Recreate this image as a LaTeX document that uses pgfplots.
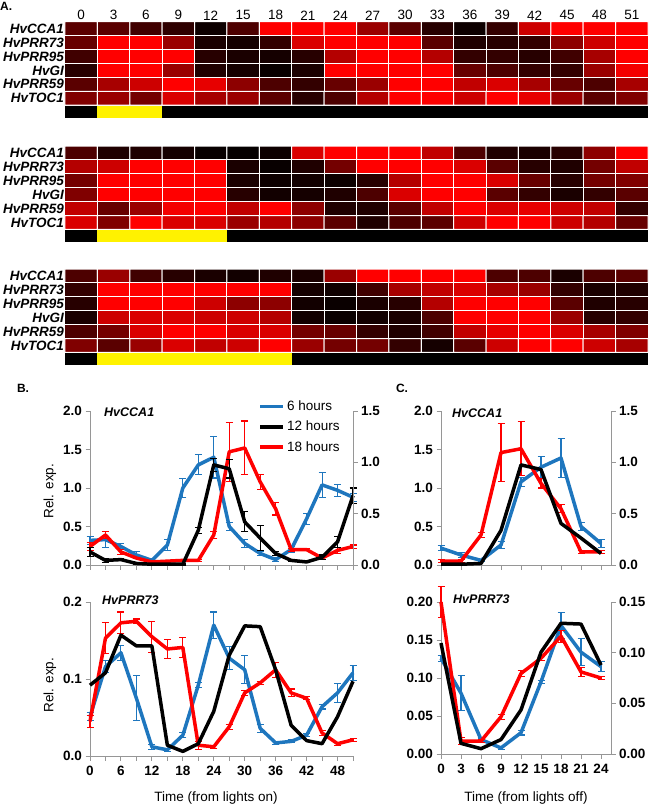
\documentclass[border=0pt]{standalone}
\usepackage{pgfplots}
\pgfplotsset{compat=1.18}
\usepackage{fontspec}
\setmainfont{Liberation Sans}
\definecolor{cblue}{RGB}{30,118,190}
\definecolor{cred}{RGB}{255,0,0}
\definecolor{axgray}{RGB}{150,150,150}
\newcommand{\tickfont}{\fontsize{13.5}{14}\selectfont\bfseries}
\newcommand{\genefont}{\fontsize{13.5}{14}\selectfont\bfseries\itshape}
\newcommand{\titlefont}{\fontsize{12.5}{13}\selectfont\bfseries\itshape}
\newcommand{\labfont}{\fontsize{13.5}{14}\selectfont}
\pgfplotsset{
 heat/.style={scale only axis, anchor=north west, width=583pt, height=96pt,
   xmin=-0.5, xmax=17.5, ymin=-0.5, ymax=6.4, y dir=reverse,
   axis line style={draw=none}, tick style={draw=none}, major tick length=0pt,
   ytick={0,...,5}, yticklabels={HvCCA1,HvPRR73,HvPRR95,HvGI,HvPRR59,HvTOC1},
   yticklabel style={font=\genefont, inner sep=1pt},
   xtick=\empty,
   colormap={br}{rgb255=(0,0,0) rgb255=(255,0,0)},
   point meta min=0, point meta max=1, clip=false},
 hm/.style={matrix plot, shader=faceted, faceted color=white, line width=1pt,
   mesh/cols=18, point meta=explicit},
 lp/.style={scale only axis, anchor=south west, axis x line*=bottom, axis y line*=left,
   axis line style={draw=axgray, line width=1pt, -}, tick style={draw=axgray, line width=1pt},
   major tick length=4.5pt, minor tick length=4.5pt, tick align=outside,
   ticklabel style={font=\tickfont}, /pgf/number format/assume math mode=true,
   clip=false, ymin=0},
 rax/.style={scale only axis, anchor=south west, axis y line*=right, axis x line=none,
   axis line style={draw=axgray, line width=1pt, -}, tick style={draw=axgray, line width=1pt},
   major tick length=4.5pt, tick align=outside,
   ticklabel style={font=\tickfont}, /pgf/number format/assume math mode=true,
   xmin=0, xmax=1, ymin=0},
 sB/.style={draw=cblue, line width=3.5pt, line join=round, mark=none},
 sK/.style={draw=black, line width=3.5pt, line join=round, mark=none},
 sR/.style={draw=cred, line width=3.5pt, line join=round, mark=none},
 eb/.style={error bars/.cd, y dir=both, y explicit,
   error bar style={line width=1.1pt, #1},
   error mark options={rotate=90, line width=1.1pt, mark size=3.5pt, #1}},
}
\begin{document}
\begin{tikzpicture}
\useasboundingbox (0pt,0pt) rectangle (649pt,-806pt);
\node[anchor=west, font=\fontsize{12}{12}\selectfont\bfseries, inner sep=0pt] at (0pt,-6pt) {A.};
% ---------------- heatmap 1 (6 h light)
\begin{axis}[heat, at={(65pt,-21.7pt)}, xtick={0,...,17}, xticklabel pos=upper,
  xticklabels={0,3,6,9,12,15,18,21,24,27,30,33,36,39,42,45,48,51},
  xticklabel style={font=\labfont, inner sep=1.5pt}]
\addplot[hm] coordinates {
(0,0)[0.35] (1,0)[0.35] (2,0)[0.25] (3,0)[0.18] (4,0)[0.05] (5,0)[0.3] (6,0)[1] (7,0)[1] (8,0)[1] (9,0)[0.6] (10,0)[0.35] (11,0)[0.15] (12,0)[0.05] (13,0)[0.2] (14,0)[0.8] (15,0)[1] (16,0)[1] (17,0)[1]
(0,1)[0.4] (1,1)[1] (2,1)[1] (3,1)[0.6] (4,1)[0.1] (5,1)[0.08] (6,1)[0.2] (7,1)[0.85] (8,1)[1] (9,1)[1] (10,1)[1] (11,1)[0.35] (12,1)[0.12] (13,1)[0.15] (14,1)[0.2] (15,1)[0.55] (16,1)[0.8] (17,1)[1]
(0,2)[0.25] (1,2)[1] (2,2)[1] (3,2)[1] (4,2)[0.15] (5,2)[0.1] (6,2)[0.08] (7,2)[0.15] (8,2)[0.7] (9,2)[1] (10,2)[1] (11,2)[0.7] (12,2)[0.2] (13,2)[0.2] (14,2)[0.15] (15,2)[0.25] (16,2)[0.65] (17,2)[1]
(0,3)[0.15] (1,3)[1] (2,3)[1] (3,3)[0.6] (4,3)[0.12] (5,3)[0.08] (6,3)[0.03] (7,3)[0.1] (8,3)[1] (9,3)[1] (10,3)[1] (11,3)[1] (12,3)[0.4] (13,3)[0.3] (14,3)[0.2] (15,3)[0.2] (16,3)[0.6] (17,3)[0.95]
(0,4)[0.35] (1,4)[0.65] (2,4)[0.8] (3,4)[1] (4,4)[0.9] (5,4)[0.55] (6,4)[0.3] (7,4)[0.2] (8,4)[0.4] (9,4)[0.6] (10,4)[1] (11,4)[1] (12,4)[0.75] (13,4)[0.85] (14,4)[0.65] (15,4)[0.4] (16,4)[0.3] (17,4)[0.65]
(0,5)[0.5] (1,5)[0.6] (2,5)[0.45] (3,5)[0.85] (4,5)[0.65] (5,5)[0.6] (6,5)[0.35] (7,5)[0.15] (8,5)[0.3] (9,5)[0.7] (10,5)[1] (11,5)[1] (12,5)[0.8] (13,5)[1] (14,5)[0.9] (15,5)[0.6] (16,5)[0.35] (17,5)[0.5]
};
\addplot[fill=black, draw=none] coordinates {(-0.5,5.57) (17.5,5.57) (17.5,6.4) (-0.5,6.4)} -- cycle;
\addplot[fill=yellow, draw=none] coordinates {(0.5,5.57) (2.5,5.57) (2.5,6.4) (0.5,6.4)} -- cycle;
\end{axis}
% ---------------- heatmap 2 (12 h light)
\begin{axis}[heat, at={(65pt,-146pt)}]
\addplot[hm] coordinates {
(0,0)[0.3] (1,0)[0.12] (2,0)[0.12] (3,0)[0.08] (4,0)[0.03] (5,0)[0.02] (6,0)[0.05] (7,0)[0.85] (8,0)[1] (9,0)[1] (10,0)[1] (11,0)[0.75] (12,0)[0.3] (13,0)[0.12] (14,0)[0.1] (15,0)[0.15] (16,0)[0.55] (17,0)[1]
(0,1)[0.7] (1,1)[0.8] (2,1)[1] (3,1)[1] (4,1)[1] (5,1)[0.1] (6,1)[0.03] (7,1)[0.12] (8,1)[0.45] (9,1)[1] (10,1)[1] (11,1)[1] (12,1)[0.85] (13,1)[0.35] (14,1)[0.15] (15,1)[0.12] (16,1)[0.45] (17,1)[0.75]
(0,2)[0.45] (1,2)[1] (2,2)[1] (3,2)[1] (4,2)[1] (5,2)[0.1] (6,2)[0.05] (7,2)[0.07] (8,2)[0.05] (9,2)[0.15] (10,2)[0.7] (11,2)[1] (12,2)[1] (13,2)[0.85] (14,2)[0.4] (15,2)[0.15] (16,2)[0.45] (17,2)[0.5]
(0,3)[0.5] (1,3)[1] (2,3)[1] (3,3)[1] (4,3)[1] (5,3)[0.15] (6,3)[0.07] (7,3)[0.08] (8,3)[0.12] (9,3)[0.3] (10,3)[0.85] (11,3)[1] (12,3)[1] (13,3)[0.35] (14,3)[0.2] (15,3)[0.1] (16,3)[0.2] (17,3)[0.35]
(0,4)[0.75] (1,4)[0.4] (2,4)[0.6] (3,4)[0.95] (4,4)[1] (5,4)[0.75] (6,4)[1] (7,4)[0.55] (8,4)[0.12] (9,4)[0.12] (10,4)[0.35] (11,4)[0.75] (12,4)[1] (13,4)[0.85] (14,4)[0.9] (15,4)[0.8] (16,4)[0.75] (17,4)[0.2]
(0,5)[0.85] (1,5)[0.5] (2,5)[1] (3,5)[0.85] (4,5)[0.85] (5,5)[0.6] (6,5)[0.7] (7,5)[0.55] (8,5)[0.35] (9,5)[0.12] (10,5)[0.3] (11,5)[0.35] (12,5)[0.8] (13,5)[1] (14,5)[1] (15,5)[0.8] (16,5)[0.7] (17,5)[0.4]
};
\addplot[fill=black, draw=none] coordinates {(-0.5,5.57) (17.5,5.57) (17.5,6.4) (-0.5,6.4)} -- cycle;
\addplot[fill=yellow, draw=none] coordinates {(0.5,5.57) (4.5,5.57) (4.5,6.4) (0.5,6.4)} -- cycle;
\end{axis}
% ---------------- heatmap 3 (18 h light)
\begin{axis}[heat, at={(65pt,-269pt)}]
\addplot[hm] coordinates {
(0,0)[0.3] (1,0)[0.6] (2,0)[0.25] (3,0)[0.15] (4,0)[0.1] (5,0)[0.07] (6,0)[0.12] (7,0)[0.1] (8,0)[0.6] (9,0)[1] (10,0)[1] (11,0)[1] (12,0)[1] (13,0)[0.3] (14,0)[0.3] (15,0)[0.1] (16,0)[0.3] (17,0)[0.35]
(0,1)[0.2] (1,1)[1] (2,1)[1] (3,1)[1] (4,1)[1] (5,1)[1] (6,1)[1] (7,1)[0.08] (8,1)[0.06] (9,1)[0.25] (10,1)[0.65] (11,1)[0.75] (12,1)[0.85] (13,1)[0.65] (14,1)[0.6] (15,1)[0.2] (16,1)[0.1] (17,1)[0.12]
(0,2)[0.15] (1,2)[1] (2,2)[1] (3,2)[1] (4,2)[0.8] (5,2)[0.55] (6,2)[0.55] (7,2)[0.07] (8,2)[0.04] (9,2)[0.1] (10,2)[0.15] (11,2)[0.7] (12,2)[1] (13,2)[1] (14,2)[1] (15,2)[0.35] (16,2)[0.12] (17,2)[0.15]
(0,3)[0.1] (1,3)[0.8] (2,3)[0.85] (3,3)[0.85] (4,3)[0.8] (5,3)[0.8] (6,3)[0.7] (7,3)[0.07] (8,3)[0.04] (9,3)[0.07] (10,3)[0.1] (11,3)[0.3] (12,3)[1] (13,3)[1] (14,3)[1] (15,3)[0.6] (16,3)[0.15] (17,3)[0.2]
(0,4)[0.3] (1,4)[0.45] (2,4)[0.85] (3,4)[1] (4,4)[1] (5,4)[0.85] (6,4)[0.85] (7,4)[0.45] (8,4)[0.4] (9,4)[0.2] (10,4)[0.12] (11,4)[0.25] (12,4)[0.75] (13,4)[0.9] (14,4)[1] (15,4)[0.85] (16,4)[0.65] (17,4)[0.5]
(0,5)[0.5] (1,5)[0.35] (2,5)[0.6] (3,5)[0.85] (4,5)[0.75] (5,5)[0.8] (6,5)[1] (7,5)[0.6] (8,5)[0.45] (9,5)[0.45] (10,5)[0.2] (11,5)[0.08] (12,5)[0.35] (13,5)[0.8] (14,5)[1] (15,5)[1] (16,5)[0.8] (17,5)[0.65]
};
\addplot[fill=black, draw=none] coordinates {(-0.5,5.57) (17.5,5.57) (17.5,6.4) (-0.5,6.4)} -- cycle;
\addplot[fill=yellow, draw=none] coordinates {(0.5,5.57) (6.5,5.57) (6.5,6.4) (0.5,6.4)} -- cycle;
\end{axis}
% ---------------- labels
\node[font=\fontsize{12}{12}\selectfont\bfseries, inner sep=0pt] at (23pt,-388pt) {B.};
\node[font=\fontsize{12}{12}\selectfont\bfseries, inner sep=0pt] at (402pt,-388pt) {C.};
\node[font=\labfont, rotate=90] at (50pt,-491pt) {Rel. exp.};
\node[font=\labfont, rotate=90] at (50pt,-685pt) {Rel. exp.};
\node[font=\labfont] at (216pt,-798pt) {Time (from lights on)};
\node[font=\labfont] at (526pt,-798pt) {Time (from lights off)};
\node[font=\titlefont, anchor=west, inner sep=0pt] at (104pt,-412pt) {HvCCA1};
\node[font=\titlefont, anchor=west, inner sep=0pt] at (102pt,-600pt) {HvPRR73};
\node[font=\titlefont, anchor=west, inner sep=0pt] at (452pt,-413pt) {HvCCA1};
\node[font=\titlefont, anchor=west, inner sep=0pt] at (453pt,-599pt) {HvPRR73};
% ---------------- B: HvCCA1
\begin{axis}[lp, at={(90pt,-565pt)}, width=263pt, height=154pt, xmin=0, xmax=51, ymax=2,
  xtick={0,3,...,51}, xticklabels={}, ytick={0,0.5,1,1.5,2},
  yticklabel style={/pgf/number format/.cd, fixed, fixed zerofill, precision=1},
  legend style={at={(0.64,1.08)}, anchor=north west, draw=none, fill=none,
    font=\labfont, inner sep=0pt, row sep=5pt, cells={anchor=west}},
  legend image code/.code={\draw[#1] (0pt,0pt) -- (23pt,0pt);}]
\addlegendimage{sB}\addlegendentry{6 hours}
\addlegendimage{sK}\addlegendentry{12 hours}
\addlegendimage{sR}\addlegendentry{18 hours}
\addplot[sB, eb=cblue] coordinates {(0,0.32)+-(0,0.05) (3,0.33)+-(0,0.1) (6,0.24)+-(0,0.04) (9,0.13)+-(0,0.05) (12,0.06)+-(0,0.02) (15,0.26)+-(0,0.07) (18,1.0)+-(0,0.12) (21,1.3)+-(0,0.13) (24,1.4)+-(0,0.27) (27,0.5)+-(0,0.05) (30,0.28)+-(0,0.05) (33,0.15)+-(0,0.03) (36,0.07)+-(0,0.03) (39,0.2)+-(0,0.04) (42,0.6)+-(0,0.07) (45,1.04)+-(0,0.16) (48,0.97)+-(0,0.08) (51,0.88)+-(0,0.05)};
\addplot[sR, eb=cred] coordinates {(0,0.24)+-(0,0.05) (3,0.39)+-(0,0.04) (6,0.17)+-(0,0.03) (9,0.09)+-(0,0.01) (12,0.04)+-(0,0.01) (15,0.05)+-(0,0.01) (18,0.06)+-(0,0.01) (21,0.06)+-(0,0.01) (24,0.39)+-(0,0.05) (27,1.47)+-(0,0.38) (30,1.52)+-(0,0.35) (33,1.08)+-(0,0.1) (36,0.73)+-(0,0.08) (39,0.2)+-(0,0.02) (42,0.2)+-(0,0.01) (45,0.09)+-(0,0.02) (48,0.19)+-(0,0.04) (51,0.24)+-(0,0.02)};
\addplot[sK, eb=black] coordinates {(0,0.17)+-(0,0.06) (3,0.06)+-(0,0.03) (6,0.07)+-(0,0.01) (9,0.02)+-(0,0.01) (12,0.01)+-(0,0.01) (15,0.01)+-(0,0.005) (18,0.01)+-(0,0.01) (21,0.45)+-(0,0.04) (24,1.3)+-(0,0.08) (27,1.25)+-(0,0.12) (30,0.56)+-(0,0.13) (33,0.35)+-(0,0.16) (36,0.15)+-(0,0.03) (39,0.06)+-(0,0.01) (42,0.04)+-(0,0.01) (45,0.1)+-(0,0.03) (48,0.3)+-(0,0.07) (51,0.9)+-(0,0.1)};
\end{axis}
\begin{axis}[rax, at={(90pt,-565pt)}, width=263pt, height=154pt, ymax=1.5, ytick={0,0.5,1,1.5},
  yticklabel style={/pgf/number format/.cd, fixed, fixed zerofill, precision=1}]
\end{axis}
% ---------------- B: HvPRR73
\begin{axis}[lp, at={(90pt,-756pt)}, width=263pt, height=154pt, xmin=0, xmax=51, ymax=0.2,
  xtick={0,6,...,48}, minor xtick={3,9,...,51}, ytick={0,0.1,0.2},
  yticklabel style={/pgf/number format/.cd, fixed, fixed zerofill, precision=1},
  xticklabel style={yshift=-2pt}]
\addplot[sB, eb=cblue] coordinates {(0,0.051)+-(0,0.005) (3,0.116)+-(0,0.008) (6,0.134)+-(0,0.01) (9,0.075)+-(0,0.029) (12,0.012)+-(0,0.003) (15,0.008)+-(0,0.002) (18,0.027)+-(0,0.003) (21,0.092)+-(0,0.003) (24,0.17)+-(0,0.017) (27,0.127)+-(0,0.015) (30,0.112)+-(0,0.018) (33,0.036)+-(0,0.005) (36,0.017)+-(0,0.002) (39,0.019)+-(0,0.002) (42,0.027)+-(0,0.002) (45,0.064)+-(0,0.003) (48,0.082)+-(0,0.012) (51,0.108)+-(0,0.01)};
\addplot[sR, eb=cred] coordinates {(0,0.045)+-(0,0.008) (3,0.153)+-(0,0.02) (6,0.173)+-(0,0.014) (9,0.175)+-(0,0.003) (12,0.155)+-(0,0.02) (15,0.139)+-(0,0.012) (18,0.141)+-(0,0.013) (21,0.014)+-(0,0.005) (24,0.012)+-(0,0.002) (27,0.038)+-(0,0.003) (30,0.082)+-(0,0.003) (33,0.095)+-(0,0.002) (36,0.112)+-(0,0.01) (39,0.082)+-(0,0.005) (42,0.075)+-(0,0.002) (45,0.03)+-(0,0.003) (48,0.016)+-(0,0.002) (51,0.021)+-(0,0.002)};
\addplot[sK] coordinates {(0,0.092) (3,0.108) (6,0.157) (9,0.143) (12,0.143) (15,0.014) (18,0.006) (21,0.016) (24,0.058) (27,0.131) (30,0.169) (33,0.168) (36,0.112) (39,0.04) (42,0.02) (45,0.016) (48,0.051) (51,0.097)};
\end{axis}
% ---------------- C: HvCCA1
\begin{axis}[lp, at={(441pt,-565pt)}, width=170pt, height=154pt, xmin=0, xmax=25.5, ymax=2,
  xtick={0,3,...,24}, xticklabels={}, ytick={0,0.5,1,1.5,2},
  yticklabel style={/pgf/number format/.cd, fixed, fixed zerofill, precision=1}]
\addplot[sB, eb=cblue] coordinates {(0,0.22)+-(0,0.03) (3,0.13)+-(0,0.03) (6,0.06)+-(0,0.01) (9,0.26)+-(0,0.04) (12,1.08)+-(0,0.06) (15,1.27)+-(0,0.14) (18,1.39)+-(0,0.25) (21,0.5)+-(0,0.05) (24,0.28)+-(0,0.05)};
\addplot[sR, eb=cred] coordinates {(0,0.05)+-(0,0.02) (3,0.05)+-(0,0.02) (6,0.39)+-(0,0.03) (9,1.46)+-(0,0.38) (12,1.51)+-(0,0.35) (15,1.06)+-(0,0.06) (18,0.73)+-(0,0.05) (21,0.17)+-(0,0.02) (24,0.17)+-(0,0.02)};
\addplot[sK] coordinates {(0,0.01) (3,0.01) (6,0.02) (9,0.45) (12,1.3) (15,1.24) (18,0.54) (21,0.35) (24,0.15)};
\end{axis}
\begin{axis}[rax, at={(441pt,-565pt)}, width=170pt, height=154pt, ymax=1.5, ytick={0,0.5,1,1.5},
  yticklabel style={/pgf/number format/.cd, fixed, fixed zerofill, precision=1}]
\end{axis}
% ---------------- C: HvPRR73
\begin{axis}[lp, at={(441pt,-754pt)}, width=170pt, height=152pt, xmin=0, xmax=25.5, ymax=0.2,
  xtick={0,3,...,24}, ytick={0,0.05,0.1,0.15,0.2},
  yticklabel style={/pgf/number format/.cd, fixed, fixed zerofill, precision=2},
  xticklabel style={yshift=-2pt}]
\addplot[sB, eb=cblue] coordinates {(0,0.126)+-(0,0.004) (3,0.08)+-(0,0.023) (6,0.019)+-(0,0.002) (9,0.008)+-(0,0.002) (12,0.028)+-(0,0.003) (15,0.095)+-(0,0.002) (18,0.169)+-(0,0.017) (21,0.134)+-(0,0.018) (24,0.115)+-(0,0.007)};
\addplot[sR, eb=cred] coordinates {(0,0.2)+-(0,0.02) (3,0.017)+-(0,0.005) (6,0.017)+-(0,0.002) (9,0.049)+-(0,0.003) (12,0.106)+-(0,0.004) (15,0.126)+-(0,0.003) (18,0.155)+-(0,0.008) (21,0.108)+-(0,0.006) (24,0.1)+-(0,0.002)};
\addplot[sK] coordinates {(0,0.146) (3,0.014) (6,0.007) (9,0.019) (12,0.058) (15,0.134) (18,0.172) (21,0.171) (24,0.117)};
\end{axis}
\begin{axis}[rax, at={(441pt,-754pt)}, width=170pt, height=152pt, ymax=0.15, ytick={0,0.05,0.1,0.15},
  yticklabel style={/pgf/number format/.cd, fixed, fixed zerofill, precision=2}]
\end{axis}
\end{tikzpicture}
\end{document}
